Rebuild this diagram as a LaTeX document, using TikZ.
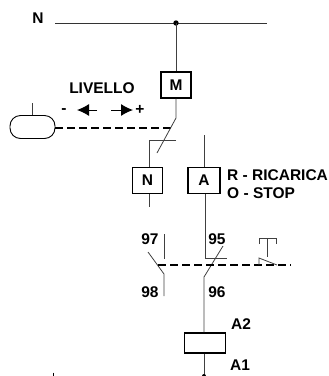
\documentclass[tikz,border=0pt]{standalone}
\usepackage{fontspec}
\setmainfont{Liberation Sans}
\usetikzlibrary{arrows.meta}
\tikzset{
  wire/.style={line width=0.8pt,black!75},
  thin wire/.style={line width=0.7pt,black!80},
  link/.style={line width=2pt,dash pattern=on 7.5pt off 4.5pt},
  relay/.style={draw,line width=1.1pt,minimum width=30pt,minimum height=26pt,inner sep=0pt,font=\fontsize{15.5}{17}\selectfont\bfseries},
  lab/.style={inner sep=0pt,font=\fontsize{15.5}{17}\selectfont\bfseries},
  move/.style={line width=1pt,-{Latex[length=12pt,width=12pt]}}
}
\begin{document}
\begin{tikzpicture}[x=1pt,y=-1pt]
    \useasboundingbox (0,0) rectangle (329,376);
    % Top line
    \node[lab] (nlab) at (38,18) {N};
    \coordinate (nl) at (55,23);
    \coordinate (nr) at (267,23);
    \coordinate (tap) at (176,23);
    \draw [thin wire] (nl) -- (nr);
    \fill (tap) circle (2.7pt);
    % Boxes
    \node[relay] (mbox) at (176,85) {M};
    \node[relay] (nbox) at (147.5,180.5) {N};
    \node[relay,minimum width=32pt] (abox) at (204,180.5) {A};
    \node[relay,minimum width=41pt,minimum height=20pt] (coil) at (205,343) {};
    % Float and level switch
    \node[draw,line width=0.9pt,minimum width=45pt,minimum height=23pt,rounded corners=10.5pt,inner sep=0pt] (float) at (32.5,127) {};
    \coordinate (stem) at (32,103);
    \draw [wire] (stem) -- (stem |- float.north);
    \node[lab] (level) at (102,88) {LIVELLO};
    \node[lab] (minus) at (64,111) {-};
    \node[lab] (plus) at (140,110) {+};
    \coordinate (la) at (97,110);
    \coordinate (lb) at (77,110);
    \coordinate (ra) at (111,110);
    \coordinate (rb) at (133,110);
    \draw [move] (la) -- (lb);
    \draw [move] (ra) -- (rb);
    \coordinate (mhinge) at (176,118);
    \coordinate (mblade) at (157,153);
    \coordinate (mlink) at (171,127.5);
    \coordinate (mseat) at (176,140.5);
    \coordinate (nbend) at (149,140.5);
    \coordinate (ntail) at (149,207);
    \draw [link] (float.east |- mlink) -- (mlink);
    \draw [wire] (tap) -- (mbox.north);
    \draw [wire] (mbox.south) -- (mhinge) -- (mblade);
    \draw [wire] (mseat) -- (nbend) -- (nbox.north -| nbend);
    \draw [wire] (nbox.south -| nbend) -- (ntail);
    % A branch
    \coordinate (afree) at (204,135);
    \coordinate (aseat) at (205,258);
    \coordinate (aend) at (227,258);
    \draw [wire] (afree) -- (abox.north);
    \draw [wire] (abox.south -| aseat) -- (aseat) -- (aend);
    \node[lab,anchor=west] (rlab) at (227,175) {R - RICARICA};
    \node[lab,anchor=west] (olab) at (227,193) {O - STOP};
    % Overload contacts
    \node[lab] (n97) at (150,239) {97};
    \node[lab] (n98) at (150,292) {98};
    \node[lab] (n95) at (217,239) {95};
    \node[lab] (n96) at (217,292) {96};
    \coordinate (ltop) at (164,234);
    \coordinate (lbot) at (164,259);
    \coordinate (lfree) at (148,252);
    \coordinate (lhinge) at (164,274);
    \coordinate (lend) at (164,296);
    \draw [wire] (ltop) -- (lbot);
    \draw [wire] (lfree) -- (lhinge) -- (lend);
    \coordinate (bfree) at (223,246);
    \coordinate (bhinge) at (204,277);
    \draw [wire] (bfree) -- (bhinge) -- (coil.north -| bhinge);
    % Reset button
    \coordinate (dl) at (158,265.3);
    \coordinate (dr) at (291,265.3);
    \draw [link] (dl) -- (dr);
    \coordinate (ptl) at (259,244);
    \coordinate (ptla) at (259,238);
    \coordinate (ptra) at (276,238);
    \coordinate (ptr) at (276,244);
    \coordinate (ptm) at (267,238);
    \coordinate (ptb) at (267,257);
    \coordinate (pbase) at (259,265);
    \coordinate (pup) at (259,258);
    \coordinate (pend) at (277,265);
    \draw [wire] (ptl) -- (ptla) -- (ptra) -- (ptr);
    \draw [wire] (ptm) -- (ptb);
    \draw [wire] (pbase) -- (pup) -- (pend);
    % Coil
    \node[lab] (a2) at (241,324) {A2};
    \node[lab] (a1) at (240,365) {A1};
    \coordinate (ctail) at (204,376);
    \coordinate (mark) at (53,372.5);
    \coordinate (markb) at (53,376);
    \draw [wire] (coil.south -| ctail) -- (ctail);
    \fill (ctail) circle (2pt);
    \draw [line width=1pt] (mark) -- (markb);
\end{tikzpicture}
\end{document}
